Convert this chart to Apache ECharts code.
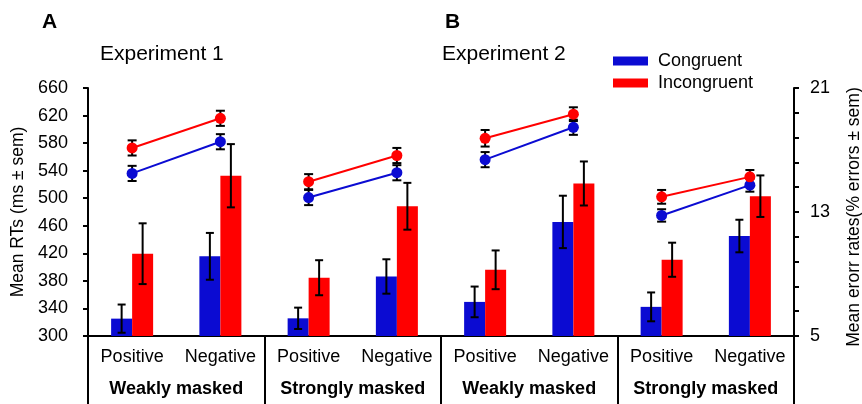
<!DOCTYPE html>
<html>
<head>
<meta charset="utf-8">
<script src="https://cdn.jsdelivr.net/npm/echarts@6/dist/echarts.min.js"></script>
<style>
  html, body { margin: 0; padding: 0; background: #fff; }
  #chart { width: 862px; height: 404px; }
</style>
</head>
<body>
<div id="chart"></div>
<script>
// categories
const condLabels = ['Positive', 'Negative', 'Positive', 'Negative', 'Positive', 'Negative', 'Positive', 'Negative'];
const groupLabels = ['Weakly masked', 'Strongly masked', 'Weakly masked', 'Strongly masked'];

// error rates (bars, right axis)
const errCongruent = [6.12, 10.14, 6.14, 8.84, 7.20, 12.36, 6.88, 11.45];
const errCongruentSem = [0.91, 1.51, 0.69, 1.11, 0.99, 1.69, 0.93, 1.05];
const errIncongruent = [10.31, 15.34, 8.76, 13.37, 9.27, 14.84, 9.92, 14.02];
const errIncongruentSem = [1.96, 2.04, 1.13, 1.51, 1.25, 1.42, 1.10, 1.34];

// reaction times (lines, left axis)
const rtCongruent = [536, 582, 501, 537, 556, 603, 475, 519];
const rtCongruentSem = [11, 11, 11, 11, 11, 11, 9, 9.5];
const rtIncongruent = [573, 616, 524, 562, 587, 622, 502, 531];
const rtIncongruentSem = [11, 11, 11, 11, 12, 10, 10, 10];

// ticks
const rtTicks = [300, 340, 380, 420, 460, 500, 540, 580, 620, 660];
const errTicks = [5, 6.6, 8.2, 9.8, 11.4, 13, 14.6, 16.2, 17.8, 19.4, 21];
const errTickLabels = [5, 13, 21];

const BLUE = '#0b0bd2';
const RED = '#ff0000';
const FONT = '"Liberation Sans", Arial, sans-serif';
const BAR_W = 21;

const chart = echarts.init(document.getElementById('chart'));

// barres d'erreur verticales avec chapeaux
function errorBarItem(offset, capHalf) {
    return function (params, api) {
        const i = api.value(0);
        const mid = api.coord([i, api.value(1)]);
        const hi = api.coord([i, api.value(2)]);
        const lo = api.coord([i, api.value(3)]);
        const x = mid[0] + offset;
        const style = { stroke: '#000', lineWidth: 2 };
        return {
            type: 'group',
            children: [
                { type: 'line', shape: { x1: x, y1: hi[1], x2: x, y2: lo[1] }, style: style },
                { type: 'line', shape: { x1: x - capHalf, y1: hi[1], x2: x + capHalf, y2: hi[1] }, style: style },
                { type: 'line', shape: { x1: x - capHalf, y1: lo[1], x2: x + capHalf, y2: lo[1] }, style: style }
            ]
        };
    };
}

function errData(vals, sem) {
    return vals.map((v, i) => [i, v, v + sem[i], v - sem[i]]);
}

const series = [
    {
        name: 'Congruent', type: 'bar', yAxisIndex: 1, data: errCongruent,
        barWidth: BAR_W, barGap: '0%', itemStyle: { color: BLUE }
    },
    {
        name: 'Incongruent', type: 'bar', yAxisIndex: 1, data: errIncongruent,
        barWidth: BAR_W, barGap: '0%', itemStyle: { color: RED }
    },
    {
        type: 'custom', yAxisIndex: 1, z: 5,
        data: errData(errCongruent, errCongruentSem),
        renderItem: errorBarItem(-BAR_W / 2, 4)
    },
    {
        type: 'custom', yAxisIndex: 1, z: 5,
        data: errData(errIncongruent, errIncongruentSem),
        renderItem: errorBarItem(BAR_W / 2, 4)
    },
    {
        type: 'custom', yAxisIndex: 0, z: 3,
        data: errData(rtCongruent, rtCongruentSem),
        renderItem: errorBarItem(0, 4.5)
    },
    {
        type: 'custom', yAxisIndex: 0, z: 3,
        data: errData(rtIncongruent, rtIncongruentSem),
        renderItem: errorBarItem(0, 4.5)
    }
];

// un segment par groupe (Positive -> Negative)
[[rtCongruent, BLUE, 'Congruent'], [rtIncongruent, RED, 'Incongruent']].forEach(([vals, color, name]) => {
    for (let g = 0; g < 4; g++) {
        series.push({
            name: name, type: 'line', yAxisIndex: 0, z: 4,
            data: vals.map((v, i) => (Math.floor(i / 2) === g ? v : '-')),
            symbol: 'circle', symbolSize: 11, showSymbol: true,
            lineStyle: { color: color, width: 2 },
            itemStyle: { color: color }
        });
    }
});

const option = {
    animation: false,
    backgroundColor: '#fff',
    textStyle: { fontFamily: FONT, color: '#000' },
    legend: {
        data: ['Congruent', 'Incongruent'],
        orient: 'vertical', left: 613, top: 52, padding: 0,
        icon: 'rect', itemWidth: 35, itemHeight: 9, itemGap: 4,
        textStyle: { fontSize: 18, color: '#000', fontFamily: FONT, padding: [0, 0, 0, 5] }
    },
    grid: { left: 88, right: 68, top: 88, bottom: 68, containLabel: false, outerBoundsMode: 'none' },
    xAxis: [
        {
            type: 'category', data: condLabels, position: 'bottom',
            axisLine: { lineStyle: { color: '#000', width: 2 } },
            axisTick: { show: true, interval: (i) => i % 2 === 0, length: 68, lineStyle: { color: '#000', width: 2 } },
            axisLabel: { interval: 0, fontSize: 18, color: '#000', margin: 12, fontFamily: FONT }
        },
        {
            type: 'category', data: groupLabels, position: 'bottom', offset: 0,
            axisLine: { show: false }, axisTick: { show: false },
            axisLabel: { interval: 0, fontSize: 18, fontWeight: 'bold', color: '#000', margin: 44, fontFamily: FONT }
        }
    ],
    yAxis: [
        {
            type: 'value', min: 300, max: 660, position: 'left',
            name: 'Mean RTs (ms ± sem)', nameLocation: 'middle', nameRotate: 90, nameGap: 60,
            nameTextStyle: { fontSize: 17.5, color: '#000', fontFamily: FONT },
            axisLine: { show: true, lineStyle: { color: '#000', width: 2 } },
            axisTick: { show: true, length: 5, customValues: rtTicks, lineStyle: { color: '#000', width: 2 } },
            axisLabel: { fontSize: 18, color: '#000', margin: 20, customValues: rtTicks, fontFamily: FONT },
            splitLine: { show: false }
        },
        {
            type: 'value', min: 5, max: 21, position: 'right',
            name: 'Mean erorr rates(% errors ± sem)', nameLocation: 'middle', nameRotate: 90, nameGap: 51,
            nameTextStyle: { fontSize: 17.5, color: '#000', fontFamily: FONT, padding: [0, 10, 0, 0] },
            axisLine: { show: true, lineStyle: { color: '#000', width: 2 } },
            axisTick: { show: true, length: 5, customValues: errTicks, lineStyle: { color: '#000', width: 2 } },
            axisLabel: { fontSize: 18, color: '#000', margin: 16, customValues: errTickLabels, fontFamily: FONT },
            splitLine: { show: false }
        }
    ],
    graphic: [
        { type: 'text', left: 42, top: 12, style: { text: 'A', font: 'bold 21px ' + FONT, fill: '#000' } },
        { type: 'text', left: 100, top: 44, style: { text: 'Experiment 1', font: '21px ' + FONT, fill: '#000' } },
        { type: 'text', left: 445, top: 12, style: { text: 'B', font: 'bold 21px ' + FONT, fill: '#000' } },
        { type: 'text', left: 442, top: 44, style: { text: 'Experiment 2', font: '21px ' + FONT, fill: '#000' } }
    ],
    series: series
};

chart.setOption(option);

// séparation pointillée entre les deux expériences
const xa = chart.convertToPixel({ xAxisIndex: 0 }, 3)[0];
const xb = chart.convertToPixel({ xAxisIndex: 0 }, 4)[0];
const xSep = (xa + xb) / 2;
const yAxisBottom = chart.convertToPixel({ yAxisIndex: 0 }, 300);
chart.setOption({
    graphic: option.graphic.concat([{
        type: 'line', z: 10,
        shape: { x1: xSep, y1: 4, x2: xSep, y2: yAxisBottom },
        style: { stroke: '#000', lineWidth: 2, lineDash: [5, 3] }
    }])
});
</script>
</body>
</html>
